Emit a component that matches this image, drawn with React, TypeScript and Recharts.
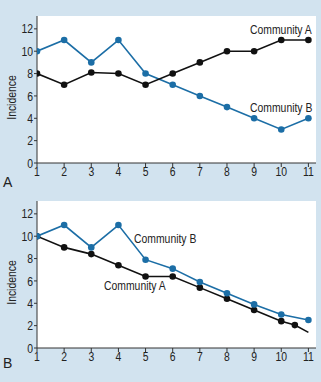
import React from "react";
import { LineChart, Line, XAxis, YAxis, CartesianGrid } from "recharts";

const xTicks = [1, 2, 3, 4, 5, 6, 7, 8, 9, 10, 11];
const yTicks = [0, 2, 4, 6, 8, 10, 12];

const topX = [1, 2, 3, 4, 5, 6, 7, 8, 9, 10, 11];
const topCommunityA = [8, 7, 8.1, 8, 7, 8, 9, 10, 10, 11, 11];
const topCommunityB = [10, 11, 9, 11, 8, 7, 6, 5, 4, 3, 4];

const botBX = [1, 2, 3, 4, 5, 6, 7, 8, 9, 10, 11];
const botCommunityB = [10, 11, 9, 11, 7.9, 7.1, 5.9, 4.9, 3.9, 3, 2.5];
const botAX = [1, 2, 3, 4, 5, 6, 7, 8, 9, 10, 10.5, 11];
const botCommunityA = [10, 9, 8.4, 7.4, 6.4, 6.4, 5.4, 4.4, 3.4, 2.4, 2.05, 1.4];
const botADotless = [11];

const BLUE = "#1c6ea6";
const BLACK = "#111111";
const BG = "#d2e3ef";
const FONT = "'Liberation Sans', Arial, sans-serif";
const SX = 0.8;

const topData = topX.map((x, i) => ({ x, a: topCommunityA[i], b: topCommunityB[i] }));
const botBData = botBX.map((x, i) => ({ x, b: botCommunityB[i] }));
const botAData = botAX.map((x, i) => ({ x, a: botCommunityA[i] }));

const makeDot = (color: string, skipX: number[] = []) => (props: any) => {
  const { cx, cy, payload, index } = props;
  if (skipX.includes(payload.x)) return <g key={index} />;
  return <circle key={index} cx={cx} cy={cy} r={3.3} fill={color} stroke="none" />;
};

const NText = ({ x, y, anchor, size, children }: any) => (
  <text
    x={0}
    y={0}
    transform={`translate(${x},${y}) scale(${SX},1)`}
    textAnchor={anchor}
    fontSize={size}
    fontFamily={FONT}
    fill="#222"
  >
    {children}
  </text>
);

const XTick = (props: any) => {
  const { x, y, payload } = props;
  return <NText x={x} y={y + 9} anchor="middle" size={13}>{payload.value}</NText>;
};

const YTick = (props: any) => {
  const { x, y, payload } = props;
  return <NText x={x} y={y + 4.6} anchor="end" size={13}>{payload.value}</NText>;
};

const YLabel = (props: any) => {
  const { viewBox } = props;
  const cy = viewBox.y + viewBox.height / 2 + 8;
  return (
    <text
      x={0}
      y={0}
      transform={`translate(16, ${cy}) rotate(-90) scale(${SX},1)`}
      textAnchor="middle"
      fontSize={13}
      fontFamily={FONT}
      fill="#222"
    >
      Incidence
    </text>
  );
};

function Panel({ top, marginTop, axisHeight, children, data }: any) {
  return (
    <div style={{ position: "absolute", left: 0, top }}>
      <LineChart width={321} height={191} data={data} margin={{ top: marginTop, right: 5, bottom: 0, left: 0 }}>
        <CartesianGrid fill="#ffffff" stroke="none" horizontal={false} vertical={false} />
        <XAxis
          dataKey="x"
          type="number"
          domain={[1, 11.28]}
          ticks={xTicks}
          interval={0}
          allowDataOverflow
          tick={<XTick />}
          tickLine={{ stroke: "#333" }}
          axisLine={{ stroke: "#333" }}
          tickSize={4}
          tickMargin={0}
          height={axisHeight}
        />
        <YAxis
          type="number"
          domain={[0, 13.15]}
          ticks={yTicks}
          interval={0}
          allowDataOverflow
          tick={<YTick />}
          tickLine={{ stroke: "#333" }}
          axisLine={{ stroke: "#333" }}
          tickSize={3}
          tickMargin={1}
          width={37}
          label={<YLabel />}
        />
        {children}
      </LineChart>
    </div>
  );
}

export default function App() {
  return (
    <div style={{ position: "absolute", left: 0, top: 0, width: 321, height: 382, background: BG }}>
      <Panel top={0} marginTop={16} axisHeight={28} data={topData}>
        <Line dataKey="b" stroke={BLUE} strokeWidth={1.6} dot={makeDot(BLUE)} isAnimationActive={false} />
        <Line dataKey="a" stroke={BLACK} strokeWidth={1.6} dot={makeDot(BLACK)} isAnimationActive={false} />
      </Panel>
      <Panel top={191} marginTop={10} axisHeight={34}>
        <Line data={botAData} dataKey="a" stroke={BLACK} strokeWidth={1.6} dot={makeDot(BLACK, botADotless)} isAnimationActive={false} />
        <Line data={botBData} dataKey="b" stroke={BLUE} strokeWidth={1.6} dot={makeDot(BLUE)} isAnimationActive={false} />
      </Panel>
      <svg width={321} height={382} style={{ position: "absolute", left: 0, top: 0, pointerEvents: "none" }}>
        <NText x={250} y={34} anchor="start" size={13}>Community A</NText>
        <NText x={250} y={112} anchor="start" size={13}>Community B</NText>
        <NText x={134} y={243} anchor="start" size={13}>Community B</NText>
        <NText x={104} y={290} anchor="start" size={13}>Community A</NText>
        <text x={3} y={187} fontSize={14} fontFamily={FONT} fill="#222">A</text>
        <text x={3} y={368} fontSize={14} fontFamily={FONT} fill="#222">B</text>
      </svg>
    </div>
  );
}
